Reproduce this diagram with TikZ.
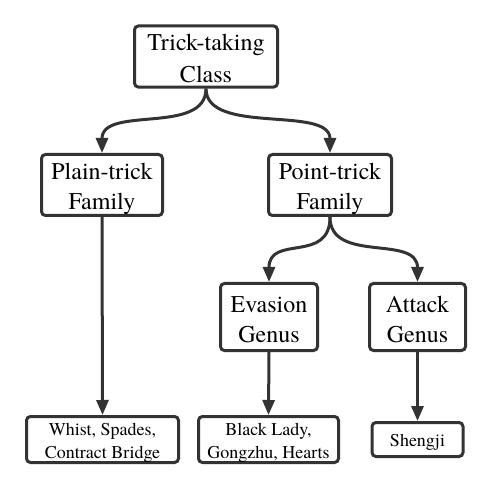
\documentclass[tikz,border=0pt]{standalone}
\usepackage{fontspec}
\setmainfont{TeX Gyre Termes}
\usetikzlibrary{arrows.meta}
\definecolor{edge}{HTML}{333333}
\newcommand\bigstr{\rule[-5pt]{0pt}{30pt}}
\newcommand\smallstr{\rule[-3.7pt]{0pt}{22pt}}
\begin{document}
\begin{tikzpicture}[x=1pt,y=-1pt,
  box/.style={draw=edge,line width=3pt,rounded corners=4pt,fill=white,align=center,inner sep=0pt,
    font=\fontsize{24}{30}\selectfont},
  leaf/.style={box,font=\fontsize{18}{22}\selectfont},
  link/.style={draw=edge,line width=3pt,-{Triangle[width=12pt,length=15pt]}}]
\useasboundingbox (0,0) rectangle (493,489);
\node[box,minimum width=143pt,minimum height=60pt] (class) at (206,56.5) {\bigstr Trick-taking\\\bigstr Class};
\node[box,minimum width=121pt,minimum height=61pt] (plain) at (102,185) {\bigstr Plain-trick\\\bigstr Family};
\node[box,minimum width=123pt,minimum height=61pt] (point) at (330,185) {\bigstr Point-trick\\\bigstr Family};
\node[box,minimum width=97pt,minimum height=67pt] (evasion) at (269,317) {\bigstr Evasion\\\bigstr Genus};
\node[box,minimum width=96pt,minimum height=67pt] (attack) at (417.5,317) {\bigstr Attack\\\bigstr Genus};
\node[leaf,minimum width=152pt,minimum height=46pt] (whist) at (102.5,439.5) {\smallstr Whist, Spades,\\\smallstr Contract Bridge};
\node[leaf,minimum width=140pt,minimum height=46pt] (black) at (268.5,439.5) {\smallstr Black Lady,\\\smallstr Gongzhu, Hearts};
\node[leaf,minimum width=91pt,minimum height=34pt] (shengji) at (417.5,439.5) {\smallstr Shengji};
\draw[link] (class.south) .. controls +(0,47) and +(0,-48) .. (plain.north);
\draw[link] (class.south) .. controls +(0,47) and +(0,-48) .. (point.north);
\draw[link] (point.south) .. controls +(0,47) and +(0,-48) .. (evasion.north);
\draw[link] (point.south) .. controls +(0,47) and +(0,-48) .. (attack.north);
\draw[link] (plain.south) -- (whist.north);
\draw[link] (evasion.south) -- (black.north);
\draw[link] (attack.south) -- (shengji.north);
\end{tikzpicture}
\end{document}
